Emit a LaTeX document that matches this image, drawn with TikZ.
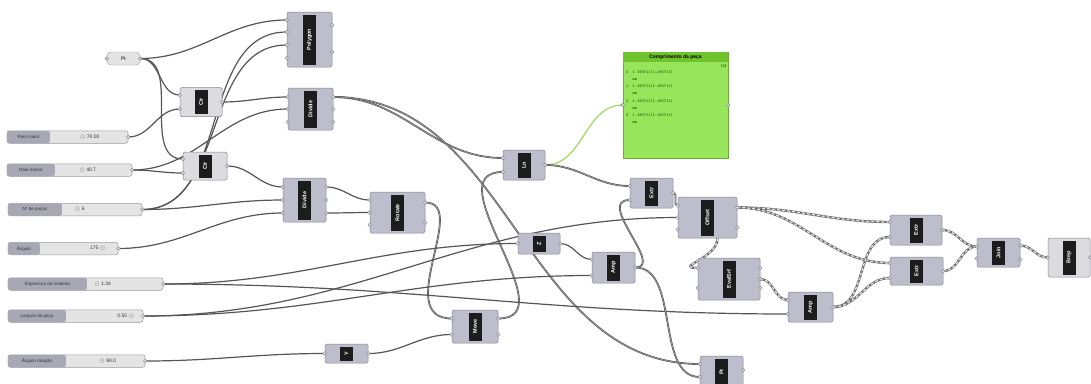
\documentclass[tikz,border=0pt]{standalone}
\usepackage{fontspec}
\setmainfont{Liberation Sans}
\usetikzlibrary{calc}
\pgfdeclarelayer{bg}
\pgfsetlayers{bg,main}

\definecolor{compfill}{HTML}{BDBDCB}
\definecolor{compedge}{HTML}{85858F}
\definecolor{litefill}{HTML}{DCDCE0}
\definecolor{stripc}{HTML}{1C1C1C}
\definecolor{nubc}{HTML}{D6D6DC}
\definecolor{sliderc}{HTML}{E4E4E4}
\definecolor{sliderlabc}{HTML}{A8A8B4}
\definecolor{slideredge}{HTML}{9A9AA2}
\definecolor{wirec}{HTML}{555555}
\definecolor{wirelite}{HTML}{A0A0A0}
\definecolor{panelc}{HTML}{96E55A}
\definecolor{paneltop}{HTML}{6FC32C}
\definecolor{paneledge}{HTML}{6AAE38}
\definecolor{okc}{HTML}{A6D86A}

\tikzset{
  comp/.style={draw=compedge, fill=compfill, rounded corners=1.5pt, inner sep=0pt, line width=0.5pt},
  litecomp/.style={fill=litefill},
  strip/.style={fill=stripc, text=white, rotate=90, minimum height=13, inner sep=0pt,
    font=\fontsize{5.5}{6}\selectfont\bfseries},
  nub/.style={fill=nubc, draw=compedge, line width=0.4pt},
  param/.style={draw=slideredge, fill=sliderc, rounded corners=4pt, inner sep=0pt,
    font=\fontsize{5}{5}\selectfont},
  slider/.style={draw=slideredge, fill=sliderc, rounded corners=2.5pt, inner sep=0pt, line width=0.5pt},
  sliderlab/.style={fill=sliderlabc, rounded corners=2.5pt, inner sep=0pt, anchor=west,
    font=\fontsize{4.5}{5}\selectfont, text=black!80},
  sliderval/.style={inner sep=0pt, font=\fontsize{5}{5}\selectfont, text=black!80},
  wire/.style={draw=wirec, line width=1.2pt},
  listwire/.style={draw=wirec, double=wirelite, double distance=0.6pt, line width=0.6pt},
  treewire/.style={draw=wirec!85, line width=2.4pt,
    postaction={draw=white!80!gray, line width=1.2pt, dash pattern=on 3pt off 2pt}},
  okwire/.style={draw=okc, line width=1.3pt}
}

% component: name, centre, width, height, label, input shifts, output shifts, extra style
\newcommand{\ghcomp}[8]{%
  \node[comp,#8,minimum width=#3,minimum height=#4] (#1) at #2 {};
  \node[strip,minimum width=#4-5] (#1-s) at (#1) {#5};
  \foreach \p in {#6} \draw[nub] ([yshift=\p]#1.west) circle (1.8);
  \foreach \p in {#7} \draw[nub] ([yshift=\p]#1.east) circle (1.8);
}
% slider: name, centre, width, label width, label, value offset, value
\newcommand{\ghslider}[7]{%
  \node[slider,minimum width=#3,minimum height=12.5] (#1) at #2 {};
  \node[sliderlab,minimum width=#4,minimum height=12.5] (#1-l) at (#1.west) {#5};
  \node[sliderval] (#1-v) at ([xshift=#6]#1.west) {#7};
  \draw[nub] (#1.east) circle (1.8);
}

\begin{document}
\begin{tikzpicture}[x=1pt,y=-1pt]
  \useasboundingbox (0,0) rectangle (1091,383);

  % sliders
  \ghslider{sla}{(67.5,137)}{121}{43}{Raio maior}{83}{$\odot$ 70.00}
  \ghslider{slb}{(69.5,170)}{125}{48}{Raio menor}{81}{$\odot$ 40.7}
  \ghslider{slc}{(75,209.5)}{134}{54}{Nº de peças}{72}{$\odot$ 6}
  \ghslider{sld}{(63,248.5)}{110}{32}{Ângulo}{90}{175 $\odot$}
  \ghslider{sle}{(85.5,284)}{155}{79}{Espessura da madeira}{95}{$\odot$ 1.34}
  \ghslider{slf}{(75.5,316)}{135}{58}{Largura da peça}{118}{0.50 $\odot$}
  \ghslider{slg}{(76.5,361)}{137}{58}{Ângulo rotação}{100}{$\odot$ 90.0}

  \node[param,minimum width=33,minimum height=13] (ptin) at (123.5,58.5) {Pt};
  \draw[nub] (ptin.west) circle (1.8);
  \draw[nub] (ptin.east) circle (1.8);

  % components
  \ghcomp{cira}{(201,102)}{42}{29}{Cir}{7,-7}{0}{litecomp}
  \ghcomp{cirb}{(205,166)}{44}{28}{Cir}{7,-7}{0}{litecomp}
  \ghcomp{poly}{(309.5,39.5)}{45}{55}{Polygon}{19.5,7.5,-5.5,-18.5}{14.5,-12.5}{}
  \ghcomp{diva}{(310.5,109)}{45}{42}{Divide}{12,0,-13}{12,0,-13}{}
  \ghcomp{divb}{(304.5,200)}{43}{44}{Divide}{13,0,-13}{13,0,-13}{}
  \ghcomp{rot}{(397.5,212.5)}{55}{41}{Rotate}{12.5,0,-12.5}{10,-10}{}
  \ghcomp{mov}{(475,326.5)}{46}{33}{Move}{8,-8}{8,-8}{}
  \ghcomp{unx}{(346.5,353.5)}{43}{19}{Y}{0}{0}{}
  \ghcomp{unz}{(539,243.5)}{42}{21}{Z}{0}{0}{}
  \ghcomp{amp}{(613.5,267.5)}{43}{31}{Amp}{8,-8}{0}{}
  \ghcomp{len}{(524,165)}{42}{30}{Ln}{7,-7}{0}{}
  \ghcomp{ext}{(651.5,193)}{43}{30}{Extr}{7,-7}{0}{}
  \ghcomp{off}{(707.5,217.5)}{59}{41}{Offset}{12,0,-12}{10,-10}{}
  \ghcomp{spl}{(729,279)}{62}{42}{EvalSrf}{11,-9}{11,0,-9}{}
  \ghcomp{ampb}{(810.5,307)}{45}{30}{Amp}{7,-7}{0}{}
  \ghcomp{ptb}{(721.5,372)}{43}{32}{Pt}{8,-5}{2}{}
  \ghcomp{exa}{(916,230)}{52}{30}{Extr}{8,-7}{0}{}
  \ghcomp{exb}{(916.5,271)}{53}{28}{Extr}{8,-7}{0}{}
  \ghcomp{joi}{(998.5,252.5)}{43}{29}{Join}{6,-6}{7,-7}{}
  \ghcomp{brp}{(1069,257.5)}{42}{39}{Brep}{0}{0}{litecomp}

  % panel
  \node[draw=paneledge, fill=panelc, minimum width=105, minimum height=106, inner sep=0pt] (pnl) at (675.5,105) {};
  \node[fill=paneltop, minimum width=105, minimum height=10, inner sep=0pt, anchor=north,
    font=\fontsize{5}{5}\selectfont\bfseries] (pnl-t) at (pnl.north) {Comprimento da peça};
  \node[anchor=north east, inner sep=1pt, font=\fontsize{4}{4}\selectfont\ttfamily] (pnl-p) at ([yshift=-1]pnl-t.south east) {\{0\}};
  \node[anchor=north west, inner sep=0pt, align=left, text=green!25!black, font=\fontsize{4.2}{7.2}\selectfont\ttfamily] (pnl-d)
    at ([xshift=3,yshift=-8]pnl-t.south west)
    {0 \ 1.190711(1.190711)\\ \ \ \ mm\\ 1 \ 1.190711(1.190711)\\ \ \ \ mm\\
     2 \ 1.190711(1.190711)\\ \ \ \ mm\\ 3 \ 1.190711(1.190711)\\ \ \ \ mm};
  \draw[nub] (pnl.west) circle (1.8);
  \draw[nub] (pnl.east) circle (1.8);

  % wires
  \begin{pgfonlayer}{bg}
    \draw[wire] (ptin.east) to[out=0,in=180] ([yshift=19.5]poly.west);
    \draw[wire] (ptin.east) to[out=0,in=180] ([yshift=7]cira.west);
    \draw[wire] (ptin.east) to[out=0,in=180] ([yshift=7]cirb.west);
    \draw[wire] (sla.east) to[out=0,in=180] ([yshift=-7]cira.west);
    \draw[wire] (slb.east) to[out=0,in=180] ([yshift=-7]cirb.west);
    \draw[wire] (slb.east) to[out=0,in=180] (diva.west);
    \draw[wire] (slc.east) to[out=0,in=180] ([yshift=7.5]poly.west);
    \draw[wire] (slc.east) to[out=0,in=180] ([yshift=-5.5]poly.west);
    \draw[wire] (slc.east) to[out=0,in=180] (divb.west);
    \draw[wire] (sld.east) to[out=0,in=180] ([yshift=-13]divb.west);
    \draw[wire] (cira.east) to[out=0,in=180] ([yshift=12]diva.west);
    \draw[wire] (cirb.east) to[out=0,in=180] ([yshift=13]divb.west);
    \draw[listwire] ([yshift=12]diva.east) to[out=0,in=180] ([yshift=7]len.west);
    \draw[listwire] ([yshift=12]diva.east) to[out=0,in=180] ([yshift=8]ptb.west);
    \draw[wire] ([yshift=13]divb.east) to[out=0,in=180] ([yshift=12.5]rot.west);
    \draw[wire] ([yshift=-13]divb.east) to[out=0,in=180] (rot.west);
    \draw[listwire] ([yshift=10]rot.east) .. controls +(45,0) and +(-60,0) .. ([yshift=8]mov.west);
    \draw[wire] (slg.east) to[out=0,in=180] (unx.west);
    \draw[wire] (unx.east) to[out=0,in=180] ([yshift=-8]mov.west);
    \draw[listwire] ([yshift=8]mov.east) .. controls +(70,0) and +(-70,0) .. ([yshift=-7]len.west);
    \draw[okwire] (len.east) to[out=0,in=180] (pnl.west);
    \draw[listwire] (len.east) to[out=0,in=180] ([yshift=7]ext.west);
    \draw[wire] (sle.east) to[out=0,in=180] (unz.west);
    \draw[wire] (sle.east) to[out=0,in=180] ([yshift=-7]ampb.west);
    \draw[wire] (slf.east) to[out=0,in=180] (off.west);
    \draw[wire] (slf.east) to[out=0,in=180] ([yshift=-8]amp.west);
    \draw[wire] (unz.east) to[out=0,in=180] ([yshift=8]amp.west);
    \draw[listwire] (amp.east) .. controls +(30,0) and +(-35,0) .. ([yshift=-7]ext.west);
    \draw[listwire] (amp.east) .. controls +(45,0) and +(-45,0) .. ([yshift=-5]ptb.west);
    \draw[listwire] (ext.east) to[out=0,in=180] ([yshift=12]off.west);
    \draw[treewire] ([yshift=10]off.east) to[out=0,in=180] ([yshift=8]exa.west);
    \draw[treewire] ([yshift=10]off.east) to[out=0,in=180] ([yshift=8]exb.west);
    \draw[treewire] ([xshift=10]off.south) .. controls +(0,20) and +(-25,0) .. ([yshift=11]spl.west);
    \draw[treewire] (spl.east) to[out=0,in=180] ([yshift=7]ampb.west);
    \draw[treewire] (ampb.east) to[out=0,in=180] ([yshift=-7]exa.west);
    \draw[treewire] (ampb.east) to[out=0,in=180] ([yshift=-7]exb.west);
    \draw[treewire] (exa.east) to[out=0,in=180] ([yshift=6]joi.west);
    \draw[treewire] (exb.east) to[out=0,in=180] ([yshift=6]joi.west);
    \draw[treewire] ([yshift=7]joi.east) to[out=0,in=180] (brp.west);
  \end{pgfonlayer}
\end{tikzpicture}
\end{document}
